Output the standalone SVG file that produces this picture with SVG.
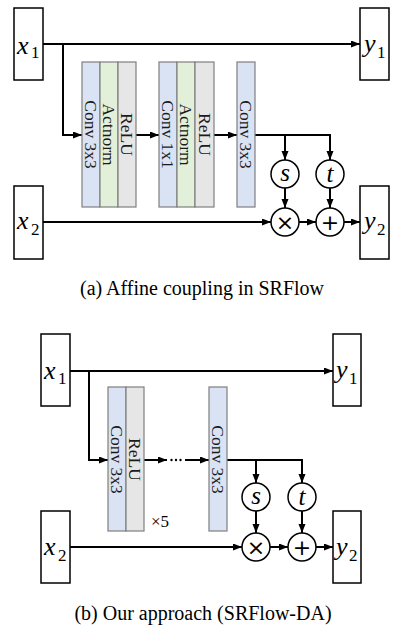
<svg xmlns="http://www.w3.org/2000/svg" width="403" height="631" viewBox="0 0 403 631">
<defs>
<marker id="ah" markerUnits="userSpaceOnUse" markerWidth="10" markerHeight="8" refX="9" refY="3.5" orient="auto"><path d="M0,0 L9,3.5 L0,7 z" fill="#000"/></marker>
<style>
.box{fill:#fff;stroke:#000;stroke-width:1.5}
.blue{fill:#dae3f3;stroke:#7f7f7f;stroke-width:1.2}
.green{fill:#e2f0d9;stroke:#7f7f7f;stroke-width:1.2}
.gray{fill:#e7e6e6;stroke:#7f7f7f;stroke-width:1.2}
.op{fill:#fff;stroke:#000;stroke-width:1.5}
.arr{fill:none;stroke:#000;stroke-width:2;marker-end:url(#ah)}
.m{font-family:"Liberation Serif",serif;font-style:italic;font-size:26px;fill:#000}
.ms{font-family:"Liberation Serif",serif;font-style:italic;font-size:25px;fill:#000;text-anchor:middle}
.sub{font-family:"Liberation Serif",serif;font-size:17px;fill:#000}
.bt{font-family:"Liberation Serif",serif;font-size:17.5px;fill:#1a1a1a;text-anchor:middle}
.sym{font-family:"DejaVu Sans",sans-serif;font-size:22px;fill:#000;text-anchor:middle}
.cap{font-family:"Liberation Serif",serif;font-size:20px;fill:#000;text-anchor:middle}
</style>
</defs>
<g id="connectors">
<path class="arr" d="M43,44 H360"/>
<path class="arr" d="M63,44 V135 H82"/>
<path class="arr" d="M136,135 H159"/>
<path class="arr" d="M214,135 H237"/>
<path class="arr" d="M255,135 H330 V160"/>
<path class="arr" d="M285,135 V160"/>
<path class="arr" d="M285,188 V208"/>
<path class="arr" d="M330,188 V208"/>
<path class="arr" d="M43,222 H271"/>
<path class="arr" d="M299,222 H316"/>
<path class="arr" d="M344,222 H360"/>
<path class="arr" d="M70,371 H333"/>
<path class="arr" d="M89,371 V460 H108"/>
<path class="arr" d="M144,460 H167"/>
<circle cx="171.5" cy="460" r="1.2"/>
<circle cx="176" cy="460" r="1.2"/>
<circle cx="180.5" cy="460" r="1.2"/>
<path class="arr" d="M185,460 H209"/>
<path class="arr" d="M227,460 H302 V483"/>
<path class="arr" d="M256,460 V483"/>
<path class="arr" d="M256,511 V533"/>
<path class="arr" d="M302,511 V533"/>
<path class="arr" d="M70,547 H242"/>
<path class="arr" d="M270,547 H288"/>
<path class="arr" d="M316,547 H333"/>
</g>
<g id="a-x1"><rect class="box" x="14" y="8" width="29" height="72"/><text class="m" x="17" y="54">x</text><text class="sub" x="31" y="58">1</text></g>
<g id="a-y1"><rect class="box" x="360" y="8" width="29" height="72"/><text class="m" x="364" y="52">y</text><text class="sub" x="377" y="58">1</text></g>
<g id="a-x2"><rect class="box" x="14" y="186" width="29" height="73"/><text class="m" x="17" y="229">x</text><text class="sub" x="31" y="235">2</text></g>
<g id="a-y2"><rect class="box" x="360" y="186" width="29" height="73"/><text class="m" x="364" y="229">y</text><text class="sub" x="377" y="235">2</text></g>
<g id="a-block1">
<rect class="blue" x="82" y="62" width="18" height="145"/>
<rect class="green" x="100" y="62" width="18" height="145"/>
<rect class="gray" x="118" y="62" width="18" height="145"/>
<text class="bt" transform="translate(85,134.5) rotate(90)">Conv 3x3</text>
<text class="bt" transform="translate(103,134.5) rotate(90)">Actnorm</text>
<text class="bt" transform="translate(121,134.5) rotate(90)">ReLU</text>
</g>
<g id="a-block2">
<rect class="blue" x="159" y="62" width="18" height="145"/>
<rect class="green" x="177" y="62" width="18" height="145"/>
<rect class="gray" x="195" y="62" width="19" height="145"/>
<text class="bt" transform="translate(162,134.5) rotate(90)">Conv 1x1</text>
<text class="bt" transform="translate(180,134.5) rotate(90)">Actnorm</text>
<text class="bt" transform="translate(198.5,134.5) rotate(90)">ReLU</text>
</g>
<g id="a-block3">
<rect class="blue" x="237" y="62" width="18" height="145"/>
<text class="bt" transform="translate(240,134.5) rotate(90)">Conv 3x3</text>
</g>
<g id="a-s"><circle class="op" cx="285" cy="174" r="14"/><text class="ms" x="285" y="180.5">s</text></g>
<g id="a-t"><circle class="op" cx="330" cy="174" r="14"/><text class="ms" x="330" y="181.5">t</text></g>
<g id="a-mul"><circle class="op" cx="285" cy="222" r="14"/><text class="sym" x="285" y="230">×</text></g>
<g id="a-add"><circle class="op" cx="330" cy="222" r="14"/><text class="sym" x="330" y="230">+</text></g>
<text class="cap" x="202" y="295">(a) Affine coupling in SRFlow</text>

<g id="b-x1"><rect class="box" x="41" y="334" width="29" height="72"/><text class="m" x="44" y="379">x</text><text class="sub" x="58" y="384">1</text></g>
<g id="b-y1"><rect class="box" x="333" y="334" width="28" height="72"/><text class="m" x="336" y="378">y</text><text class="sub" x="349" y="384">1</text></g>
<g id="b-x2"><rect class="box" x="41" y="511" width="29" height="72"/><text class="m" x="44" y="555">x</text><text class="sub" x="58" y="561">2</text></g>
<g id="b-y2"><rect class="box" x="333" y="511" width="28" height="72"/><text class="m" x="336" y="555">y</text><text class="sub" x="349" y="561">2</text></g>
<g id="b-block1">
<rect class="blue" x="108" y="387" width="18" height="144"/>
<rect class="gray" x="126" y="387" width="18" height="144"/>
<text class="bt" transform="translate(111,459.5) rotate(90)">Conv 3x3</text>
<text class="bt" transform="translate(129,459.5) rotate(90)">ReLU</text>
</g>
<text id="b-times5" x="151" y="527" style="font-family:'Liberation Serif',serif;font-size:17px;fill:#000">×5</text>
<g id="b-block3">
<rect class="blue" x="209" y="387" width="18" height="144"/>
<text class="bt" transform="translate(212,459.5) rotate(90)">Conv 3x3</text>
</g>
<g id="b-s"><circle class="op" cx="256" cy="497" r="14"/><text class="ms" x="256" y="503.5">s</text></g>
<g id="b-t"><circle class="op" cx="302" cy="497" r="14"/><text class="ms" x="302" y="504.5">t</text></g>
<g id="b-mul"><circle class="op" cx="256" cy="547" r="14"/><text class="sym" x="256" y="555">×</text></g>
<g id="b-add"><circle class="op" cx="302" cy="547" r="14"/><text class="sym" x="302" y="555">+</text></g>
<text class="cap" x="203" y="620">(b) Our approach (SRFlow-DA)</text>
</svg>
